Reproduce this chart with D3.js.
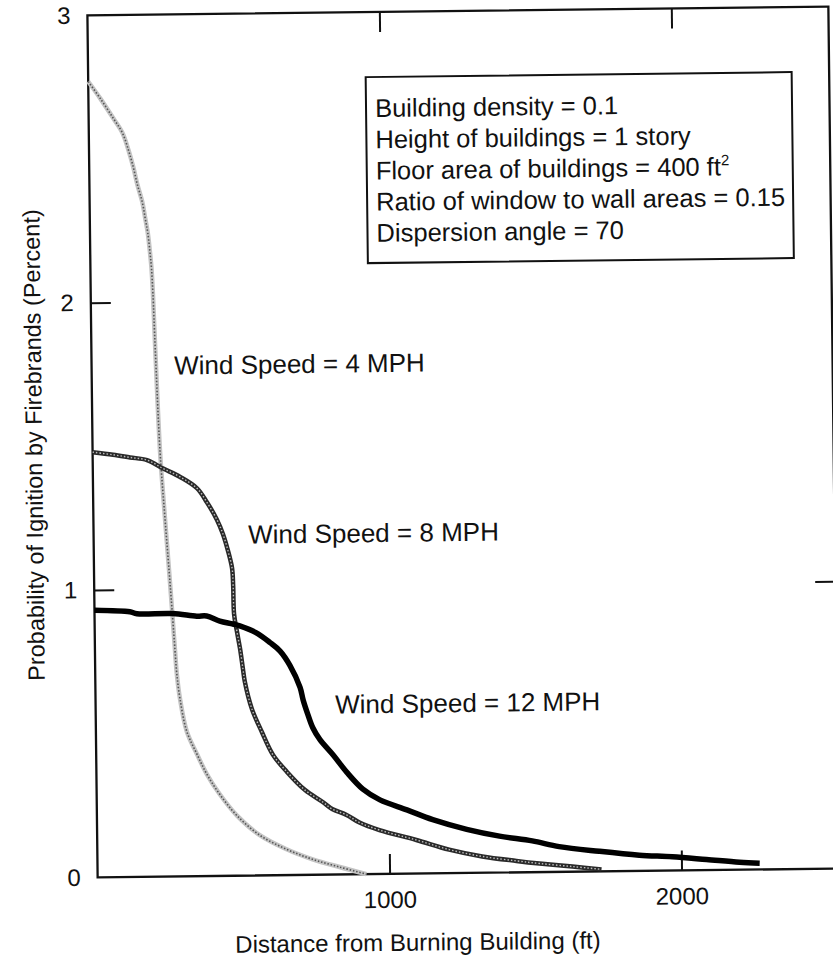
<!DOCTYPE html>
<html><head><meta charset="utf-8">
<script src="https://cdn.jsdelivr.net/npm/d3@7"></script>
<style>
html,body{margin:0;padding:0;background:#fff;}
svg{display:block;}
text{font-family:"Liberation Sans",Arial,Helvetica,sans-serif;fill:#111;}
</style></head>
<body>
<svg id="chart" width="833" height="968"></svg>
<script>
// ---- data ----
const seriesLabels = ["Wind Speed = 4 MPH", "Wind Speed = 8 MPH", "Wind Speed = 12 MPH"];

const dist4 = [0, 41, 85, 115, 135, 151, 164, 180, 190, 198, 204, 209, 213, 219, 231, 245, 260, 274, 279, 289, 311, 345, 378, 421, 479, 557, 648, 737, 829, 921];
const prob4 = [2.77, 2.71, 2.64, 2.59, 2.53, 2.47, 2.41, 2.35, 2.29, 2.24, 2.18, 2.12, 2.03, 1.83, 1.48, 1.25, 1.02, 0.79, 0.71, 0.62, 0.505, 0.425, 0.355, 0.285, 0.21, 0.14, 0.09, 0.054, 0.026, 0];

const dist8 = [0, 70, 128, 186, 241, 299, 356, 390, 423, 443, 460, 473, 476, 478, 487, 497, 506, 512, 535, 568, 605, 652, 713, 774, 806, 855, 899, 967, 1093, 1205, 1318, 1435, 1514, 1627, 1726];
const prob8 = [1.48, 1.47, 1.46, 1.45, 1.42, 1.39, 1.35, 1.30, 1.24, 1.19, 1.13, 1.07, 1.01, 0.91, 0.85, 0.79, 0.72, 0.675, 0.58, 0.50, 0.42, 0.36, 0.296, 0.253, 0.228, 0.207, 0.18, 0.153, 0.117, 0.082, 0.057, 0.04, 0.03, 0.018, 0.007];

const dist12 = [0, 121, 145, 268, 350, 384, 429, 474, 497, 552, 600, 634, 667, 701, 711, 727, 743, 767, 811, 858, 912, 970, 1062, 1150, 1266, 1378, 1490, 1582, 1719, 1856, 1969, 2086, 2199, 2268];
const prob12 = [0.93, 0.923, 0.916, 0.915, 0.905, 0.905, 0.887, 0.876, 0.869, 0.845, 0.81, 0.78, 0.73, 0.653, 0.609, 0.557, 0.512, 0.47, 0.417, 0.355, 0.296, 0.258, 0.222, 0.187, 0.152, 0.127, 0.109, 0.088, 0.070, 0.055, 0.048, 0.037, 0.026, 0.022];

const xTicks = [1000, 2000];
const yTicks = [0, 1, 2, 3];
const xTickLabels = ["1000", "2000"];
const yTickLabels = ["0", "1", "2", "3"];
const xTitle = "Distance from Burning Building (ft)";
const yTitle = "Probability of Ignition by Firebrands (Percent)";
const boxLines = ["Building density = 0.1", "Height of buildings = 1 story", "Floor area of buildings = 400 ft", "Ratio of window to wall areas = 0.15", "Dispersion angle = 70"];

// ---- layout ----
const svg = d3.select("#chart");
const L = 92.5, R = 833.5, T = 11, B = 873;
const x = d3.scaleLinear().domain([0, 2538]).range([L, R]);
const y = d3.scaleLinear().domain([0, 3]).range([B, T]);

// the scanned figure is slightly rotated
const g = svg.append("g").attr("transform", "rotate(-0.68,463,442)");

// frame
g.append("rect").attr("x", L).attr("y", T).attr("width", R - L).attr("height", B - T)
  .attr("fill", "none").attr("stroke", "#111").attr("stroke-width", 2.3);

// axes with inward ticks
const tick = 20;
g.append("g").attr("transform", `translate(0,${B})`)
  .call(d3.axisBottom(x).tickValues(xTicks).tickSizeInner(-tick).tickSizeOuter(0).tickPadding(17).tickFormat((d, i) => xTickLabels[i]))
  .call(a => a.select(".domain").remove());
g.append("g").attr("transform", `translate(0,${T})`)
  .call(d3.axisTop(x).tickValues(xTicks).tickSizeInner(-tick).tickSizeOuter(0).tickFormat(""))
  .call(a => a.select(".domain").remove());
g.append("g").attr("transform", `translate(${L},0)`)
  .call(d3.axisLeft(y).tickValues(yTicks).tickSizeInner(0).tickSizeOuter(0).tickPadding(17).tickFormat((d, i) => yTickLabels[i]))
  .call(a => a.select(".domain").remove());
g.append("g").attr("transform", `translate(${L},0)`)
  .call(d3.axisRight(y).tickValues([1, 2]).tickSizeInner(tick).tickSizeOuter(0).tickFormat(""))
  .call(a => a.select(".domain").remove());
g.append("g").attr("transform", `translate(${R},0)`)
  .call(d3.axisLeft(y).tickValues([1]).tickSizeInner(tick).tickSizeOuter(0).tickFormat(""))
  .call(a => a.select(".domain").remove());
g.selectAll(".tick line").attr("stroke", "#111").attr("stroke-width", 2);
g.selectAll(".tick text").style("font-size", "24px").attr("fill", "#111");

// axis titles
g.append("text").attr("x", 412).attr("y", 950).attr("text-anchor", "middle")
  .style("font-size", "24px").text(xTitle);
g.append("text").attr("transform", "translate(42,440) rotate(-90)").attr("text-anchor", "middle")
  .style("font-size", "23.5px").text(yTitle);

// curves
const line = d3.line().x(d => x(d[0])).y(d => y(d[1])).curve(d3.curveCatmullRom.alpha(0.5));
const s4 = dist4.map((d, i) => [d, prob4[i]]);
const s8 = dist8.map((d, i) => [d, prob8[i]]);
const s12 = dist12.map((d, i) => [d, prob12[i]]);

g.append("path").datum(s4).attr("d", line).attr("fill", "none").attr("stroke", "#c4c4c4").attr("stroke-width", 4.5);
g.append("path").datum(s4).attr("d", line).attr("fill", "none").attr("stroke", "#555").attr("stroke-width", 1.6).attr("stroke-dasharray", "1.5,1.8");

g.append("path").datum(s8).attr("d", line).attr("fill", "none").attr("stroke", "#2a2a2a").attr("stroke-width", 4.5);
g.append("path").datum(s8).attr("d", line).attr("fill", "none").attr("stroke", "#bdbdbd").attr("stroke-width", 1.4).attr("stroke-dasharray", "1.5,2");

g.append("path").datum(s12).attr("d", line).attr("fill", "none").attr("stroke", "#000").attr("stroke-width", 5.5);

// curve labels
const labelPos = [[175, 371], [247, 541], [332, 712]];
g.selectAll("text.lab").data(seriesLabels).join("text").attr("class", "lab")
  .attr("x", (d, i) => labelPos[i][0]).attr("y", (d, i) => labelPos[i][1])
  .style("font-size", "26px").text(d => d);

// parameter box
g.append("rect").attr("x", 370).attr("y", 76).attr("width", 426).attr("height", 186)
  .attr("fill", "#fff").attr("stroke", "#111").attr("stroke-width", 2);
const bt = g.append("g");
boxLines.forEach((t, i) => {
  const tx = bt.append("text").attr("x", 379).attr("y", 116 + i * 31.2).style("font-size", "25.5px").text(t);
  if (i === 2) tx.append("tspan").attr("dy", -10).style("font-size", "15px").text("2");
});
</script>
</body></html>
